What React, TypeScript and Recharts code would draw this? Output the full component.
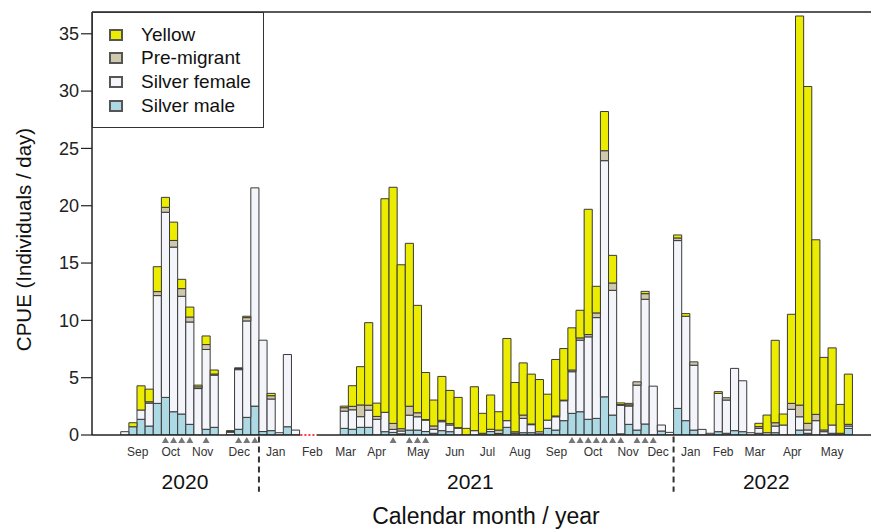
import { BarChart, Bar, XAxis, YAxis, Legend, ReferenceLine, ReferenceDot } from 'recharts'

// weekly sampling, index 0 = last week of Aug 2020
const WEEKS = Array.from({ length: 90 }, (_, i) => i)

const SILVER_MALE = [
  0, 0.72, 1.37, 0.78, 2.76, 3.28, 2.03, 1.83, 0.93, 0,
  0.5, 0.67, 0, 0, 0.5, 1.54, 2.52, 0.3, 0.38, 0,
  0.72, 0, 0, 0, 0, 0, 0, 0.58, 0.5, 0.67,
  0.67, 0, 0.29, 0.23, 0.1, 0.43, 0.43, 0.3, 0.15, 0.38,
  0.29, 0, 0, 0, 0, 0.3, 0.13, 0.67, 0, 0.2,
  0.2, 0.1, 0.58, 0.43, 1.25, 1.89, 2.03, 1.37, 1.45, 3.33,
  1.74, 0.1, 0.93, 0.43, 0.96, 0, 0.35, 0, 2.32, 1.25,
  0.43, 0, 0, 0.29, 0.15, 0.38, 0.29, 0, 0.15, 0,
  0.2, 0, 0, 0.43, 0.15, 0, 0, 0.15, 0, 0.58,
]
const SILVER_FEMALE = [
  0.29, 0, 0.81, 2.0, 9.4, 16.15, 14.36, 10.27, 8.93, 4.05,
  6.96, 4.55, 0, 0.25, 5.2, 8.41, 19.04, 7.97, 2.76, 0.2,
  6.3, 0.43, 0, 0, 0, 0, 0, 1.5, 1.7, 0.93,
  1.5, 1.37, 1.69, 0.26, 0.25, 1.3, 1.16, 1.0, 0.35, 0.78,
  0.58, 0.6, 0, 0.38, 0, 0.2, 0, 0.58, 0.15, 1.25,
  0.7, 0.18, 0.72, 1.16, 1.74, 3.63, 6.24, 7.19, 8.79, 20.6,
  10.88, 2.5, 1.6, 3.92, 10.88, 4.26, 0.52, 0.23, 14.64, 9.11,
  5.66, 0.49, 0.15, 3.34, 2.9, 5.43, 4.44, 0.2, 0.43, 0.2,
  0.58, 0.87, 2.24, 1.16, 0.29, 1.25, 0.29, 0.72, 0, 0.2,
]
const PRE_MIGRANT = [
  0, 0, 0, 0.12, 0.35, 0.43, 0.58, 0.67, 0.43, 0.15,
  0.43, 0.1, 0, 0.05, 0.1, 0.29, 0, 0, 0.29, 0,
  0, 0, 0, 0, 0, 0, 0, 0.3, 0.3, 1.02,
  0.43, 0.25, 0, 0.52, 0.2, 0.78, 0.35, 0.05, 0.29, 0.12,
  0.12, 0.04, 0, 0, 0.15, 0, 0.3, 0, 0.13, 0.29,
  0.06, 0, 0, 0.07, 0.05, 0.15, 0.2, 0.2, 0.41, 0.87,
  0.64, 0.05, 0.1, 0.29, 0.49, 0, 0, 0, 0.23, 0,
  0.29, 0, 0, 0, 0.2, 0, 0, 0, 0.15, 0,
  0.29, 0, 0.52, 1.02, 0.58, 0.55, 0.15, 0, 0.15, 0.15,
]
const YELLOW = [
  0, 0.35, 2.11, 1.1, 2.17, 0.87, 1.6, 0.81, 0.87, 0.15,
  0.75, 0.35, 0, 0.08, 0.06, 0.12, 0, 0, 0.2, 0,
  0, 0, 0, 0, 0, 0, 0, 0.14, 1.8, 3.34,
  7.2, 1.16, 18.63, 20.6, 14.3, 14.21, 9.37, 4.1, 2.26, 3.83,
  2.9, 2.64, 0.58, 3.83, 1.74, 2.99, 1.6, 7.17, 4.3, 4.55,
  4.35, 4.56, 2.26, 4.93, 4.5, 3.68, 2.41, 10.93, 2.32, 3.42,
  2.41, 0.15, 0.13, 0, 0.2, 0, 0, 0, 0.26, 0.23,
  0, 0, 0, 0.15, 0, 0, 0, 0, 0.29, 1.54,
  7.19, 0.96, 7.77, 33.94, 29.38, 15.23, 6.33, 6.73, 2.52, 4.38,
]

const MONTH_TICKS = [1.58, 5.65, 9.58, 14.08, 18.56, 23.07, 27.17, 30.98, 36.1, 40.6, 44.6, 48.6, 53.1, 57.6, 61.9, 65.6, 69.6, 73.6, 77.5, 82.1, 87.0]
const MONTH_LABELS = ['Sep', 'Oct', 'Nov', 'Dec', 'Jan', 'Feb', 'Mar', 'Apr', 'May', 'Jun', 'Jul', 'Aug', 'Sep', 'Oct', 'Nov', 'Dec', 'Jan', 'Feb', 'Mar', 'Apr', 'May']
const YEAR_TICKS = [7.4, 42.5, 78.9]
const YEAR_LABELS = ['2020', '2021', '2022']
const YEAR_BREAKS = [16.5, 67.5]
const NO_SAMPLING = [21.6, 23.6]
const MARKER_WEEKS = [5, 6, 7, 8, 10, 14, 15, 16, 33, 35, 36, 37, 55, 56, 57, 58, 59, 60, 61, 63, 64, 65]
const Y_TICKS = [0, 5, 10, 15, 20, 25, 30, 35]
const Y_MAX = 36.9
const X_DOMAIN: [number, number] = [-4.034, 92.89]

const SERIES = [
  { key: 'male', name: 'Silver male', color: '#acd9e4' },
  { key: 'female', name: 'Silver female', color: '#f4f4fb' },
  { key: 'premig', name: 'Pre-migrant', color: '#cfc8ad' },
  { key: 'yellow', name: 'Yellow', color: '#ecec00' },
]

const data = WEEKS.map((week, i) => ({
  week,
  male: SILVER_MALE[i],
  female: SILVER_FEMALE[i],
  premig: PRE_MIGRANT[i],
  yellow: YELLOW[i],
}))

function LegendBox() {
  return (
    <div style={{ width: 172, height: 116, border: '1.5px solid #333', background: '#fff', boxSizing: 'border-box', padding: '10px 0 0 16px' }}>
      {[...SERIES].reverse().map(s => (
        <div key={s.key} style={{ display: 'flex', alignItems: 'center', height: 23.6, fontSize: 19, color: '#111' }}>
          <span style={{ display: 'inline-block', width: 14, height: 12, border: '2px solid #555', background: s.color, boxSizing: 'border-box', marginRight: 18 }} />
          {s.name}
        </div>
      ))}
    </div>
  )
}

function YTitle(props: any) {
  const vb = props.viewBox
  const x = vb.x + 23
  const y = vb.y + vb.height / 2 + 16
  return (
    <text x={x} y={y} transform={`rotate(-90 ${x} ${y})`} textAnchor="middle" dominantBaseline="central" fontSize={20.5} fill="#111">
      CPUE (Individuals / day)
    </text>
  )
}

const triangle = (props: any) => {
  const { cx, cy } = props
  return <polygon points={`${cx},${cy + 2} ${cx - 3.5},${cy + 8} ${cx + 3.5},${cy + 8}`} fill="#777" />
}

export default function App() {
  return (
    <div style={{ position: 'absolute', left: 0, top: 0, width: 871, height: 529, overflow: 'hidden', background: '#fff', fontFamily: '"Liberation Sans", Arial, sans-serif' }}>
      <BarChart width={880} height={529} data={data} margin={{ top: 12, right: 0, bottom: 0, left: 0 }} barCategoryGap={0} barGap={0}>
        <XAxis
          dataKey="week"
          type="number"
          domain={X_DOMAIN}
          allowDataOverflow
          ticks={MONTH_TICKS}
          interval={0}
          tickFormatter={(_v: number, i: number) => MONTH_LABELS[i]}
          tickLine={false}
          tickSize={6}
          tickMargin={6}
          height={28}
          axisLine={false}
          tick={{ fontSize: 12, fill: '#333' }}
        />
        <XAxis
          xAxisId="year"
          dataKey="week"
          type="number"
          domain={X_DOMAIN}
          allowDataOverflow
          ticks={YEAR_TICKS}
          interval={0}
          tickFormatter={(_v: number, i: number) => YEAR_LABELS[i]}
          tickLine={false}
          axisLine={false}
          tickSize={6}
          tickMargin={5}
          height={66}
          tick={{ fontSize: 21, fill: '#111' }}
          label={{ value: 'Calendar month / year', position: 'insideBottom', offset: 5, fontSize: 23, fill: '#111' }}
        />
        <YAxis
          type="number"
          domain={[0, Y_MAX]}
          allowDataOverflow
          ticks={Y_TICKS}
          interval={0}
          width={92}
          tickSize={11}
          tickMargin={2}
          axisLine={{ stroke: '#222', strokeWidth: 1.5 }}
          tickLine={{ stroke: '#222', strokeWidth: 1.2 }}
          tick={{ fontSize: 18, fill: '#222' }}
          label={YTitle}
        />
        {SERIES.map(s => (
          <Bar key={s.key} dataKey={s.key} name={s.name} stackId="a" fill={s.color} stroke="#3a3a3a" strokeWidth={1} barSize={8.13} isAnimationActive={false} />
        ))}
        <ReferenceLine y={Y_MAX} stroke="#222" strokeWidth={1.5} />
        {/* baseline, broken where no sampling took place */}
        <ReferenceLine segment={[{ x: X_DOMAIN[0], y: 0 }, { x: NO_SAMPLING[0], y: 0 }]} ifOverflow="visible" stroke="#222" strokeWidth={1.5} />
        <ReferenceLine segment={[{ x: NO_SAMPLING[1], y: 0 }, { x: X_DOMAIN[1], y: 0 }]} ifOverflow="visible" stroke="#222" strokeWidth={1.5} />
        <ReferenceLine segment={[{ x: NO_SAMPLING[0], y: 0 }, { x: NO_SAMPLING[1], y: 0 }]} ifOverflow="visible" stroke="#ff3b3b" strokeWidth={2} strokeDasharray="2 2" />
        {YEAR_BREAKS.map(x => (
          <ReferenceLine key={x} segment={[{ x, y: -0.13 }, { x, y: -4.95 }]} ifOverflow="visible" stroke="#333" strokeWidth={2} strokeDasharray="6 4" />
        ))}
        {MARKER_WEEKS.map(w => (
          <ReferenceDot key={w} x={w} y={0} r={3} ifOverflow="visible" shape={triangle} />
        ))}
        <Legend content={<LegendBox />} layout="vertical" align="center" verticalAlign="middle" wrapperStyle={{ left: 92, top: 12, width: 172, height: 116 }} />
      </BarChart>
    </div>
  )
}
